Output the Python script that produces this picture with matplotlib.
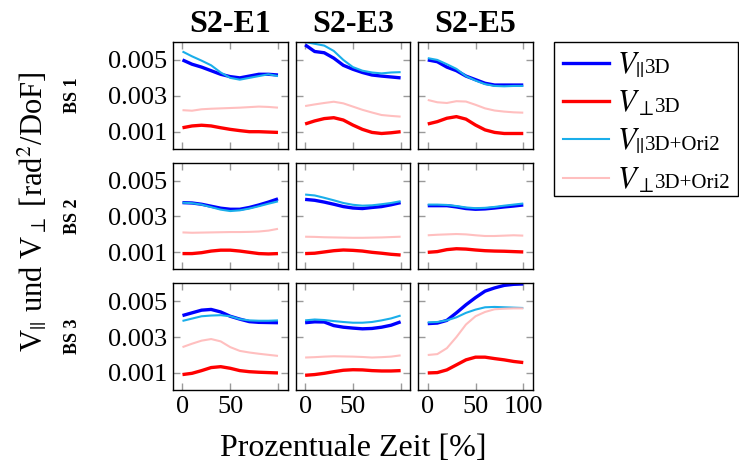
import matplotlib
matplotlib.use("Agg")
import matplotlib.pyplot as plt
from matplotlib.lines import Line2D
from matplotlib.patches import Rectangle

plt.rcParams["font.family"] = ["Liberation Serif", "DejaVu Serif"]
plt.rcParams["mathtext.fontset"] = "stix"

# Percent of movement time at which each series is sampled
time_pct = [0, 10, 20, 30, 40, 50, 60, 70, 80, 90, 100]

columns = ["S2-E1", "S2-E3", "S2-E5"]
rows = ["BS 1", "BS 2", "BS 3"]

# V_parallel, 3D only  [row][column][time]
v_par_3d = [
    [[0.00500, 0.00476, 0.00460, 0.00440, 0.00420, 0.00407, 0.00400, 0.00410, 0.00420, 0.00420, 0.00416],
     [0.00584, 0.00547, 0.00540, 0.00510, 0.00470, 0.00448, 0.00430, 0.00416, 0.00410, 0.00405, 0.00400],
     [0.00500, 0.00490, 0.00460, 0.00440, 0.00410, 0.00390, 0.00370, 0.00360, 0.00360, 0.00360, 0.00360]],
    [[0.00377, 0.00375, 0.00368, 0.00357, 0.00346, 0.00340, 0.00340, 0.00350, 0.00364, 0.00380, 0.00398],
     [0.00395, 0.00390, 0.00380, 0.00368, 0.00355, 0.00347, 0.00344, 0.00350, 0.00355, 0.00365, 0.00377],
     [0.00360, 0.00360, 0.00360, 0.00353, 0.00344, 0.00340, 0.00342, 0.00347, 0.00353, 0.00358, 0.00364]],
    [[0.00420, 0.00435, 0.00450, 0.00454, 0.00440, 0.00416, 0.00400, 0.00386, 0.00382, 0.00381, 0.00380],
     [0.00380, 0.00385, 0.00384, 0.00364, 0.00355, 0.00350, 0.00346, 0.00348, 0.00355, 0.00366, 0.00385],
     [0.00375, 0.00378, 0.00393, 0.00435, 0.00480, 0.00520, 0.00556, 0.00574, 0.00588, 0.00594, 0.00596]],
]

# V_perpendicular, 3D only
v_perp_3d = [
    [[0.00122, 0.00132, 0.00136, 0.00132, 0.00122, 0.00113, 0.00106, 0.00100, 0.00100, 0.00098, 0.00096],
     [0.00143, 0.00160, 0.00173, 0.00178, 0.00165, 0.00137, 0.00113, 0.00096, 0.00090, 0.00094, 0.00100],
     [0.00143, 0.00156, 0.00175, 0.00184, 0.00170, 0.00137, 0.00110, 0.00096, 0.00090, 0.00090, 0.00090]],
    [[0.00093, 0.00093, 0.00098, 0.00107, 0.00112, 0.00112, 0.00107, 0.00100, 0.00093, 0.00091, 0.00093],
     [0.00093, 0.00095, 0.00102, 0.00109, 0.00113, 0.00111, 0.00107, 0.00100, 0.00095, 0.00089, 0.00085],
     [0.00100, 0.00104, 0.00115, 0.00120, 0.00118, 0.00113, 0.00109, 0.00107, 0.00106, 0.00104, 0.00102]],
    [[0.00091, 0.00098, 0.00113, 0.00130, 0.00135, 0.00126, 0.00113, 0.00107, 0.00104, 0.00102, 0.00100],
     [0.00087, 0.00091, 0.00098, 0.00107, 0.00115, 0.00118, 0.00117, 0.00113, 0.00111, 0.00111, 0.00113],
     [0.00100, 0.00102, 0.00117, 0.00145, 0.00173, 0.00188, 0.00188, 0.00180, 0.00173, 0.00164, 0.00158]],
]

# V_parallel, 3D + Ori2
v_par_ori2 = [
    [[0.00547, 0.00520, 0.00496, 0.00470, 0.00430, 0.00400, 0.00390, 0.00400, 0.00410, 0.00420, 0.00410],
     [0.00600, 0.00590, 0.00580, 0.00550, 0.00500, 0.00460, 0.00440, 0.00430, 0.00425, 0.00430, 0.00432],
     [0.00510, 0.00500, 0.00476, 0.00450, 0.00410, 0.00385, 0.00365, 0.00355, 0.00353, 0.00355, 0.00355]],
    [[0.00377, 0.00374, 0.00366, 0.00352, 0.00338, 0.00330, 0.00334, 0.00344, 0.00357, 0.00371, 0.00384],
     [0.00422, 0.00417, 0.00404, 0.00390, 0.00375, 0.00365, 0.00360, 0.00362, 0.00368, 0.00375, 0.00385],
     [0.00366, 0.00366, 0.00364, 0.00358, 0.00350, 0.00346, 0.00348, 0.00353, 0.00360, 0.00366, 0.00372]],
    [[0.00390, 0.00403, 0.00416, 0.00420, 0.00422, 0.00416, 0.00400, 0.00393, 0.00391, 0.00391, 0.00393],
     [0.00393, 0.00398, 0.00395, 0.00389, 0.00384, 0.00380, 0.00380, 0.00384, 0.00393, 0.00404, 0.00420],
     [0.00382, 0.00384, 0.00393, 0.00410, 0.00435, 0.00453, 0.00466, 0.00468, 0.00466, 0.00464, 0.00462]],
]

# V_perpendicular, 3D + Ori2
v_perp_ori2 = [
    [[0.00220, 0.00217, 0.00225, 0.00228, 0.00230, 0.00232, 0.00234, 0.00237, 0.00240, 0.00238, 0.00234],
     [0.00243, 0.00252, 0.00260, 0.00267, 0.00258, 0.00240, 0.00222, 0.00207, 0.00193, 0.00188, 0.00184],
     [0.00277, 0.00264, 0.00260, 0.00270, 0.00268, 0.00250, 0.00230, 0.00218, 0.00212, 0.00208, 0.00206]],
    [[0.00211, 0.00209, 0.00210, 0.00211, 0.00212, 0.00213, 0.00213, 0.00214, 0.00216, 0.00221, 0.00231],
     [0.00187, 0.00186, 0.00184, 0.00183, 0.00182, 0.00181, 0.00181, 0.00182, 0.00183, 0.00185, 0.00187],
     [0.00195, 0.00198, 0.00200, 0.00202, 0.00200, 0.00195, 0.00191, 0.00191, 0.00193, 0.00195, 0.00193]],
    [[0.00244, 0.00263, 0.00280, 0.00289, 0.00276, 0.00244, 0.00223, 0.00214, 0.00207, 0.00201, 0.00195],
     [0.00186, 0.00188, 0.00191, 0.00193, 0.00192, 0.00191, 0.00189, 0.00186, 0.00188, 0.00191, 0.00198],
     [0.00200, 0.00205, 0.00238, 0.00300, 0.00370, 0.00416, 0.00440, 0.00455, 0.00458, 0.00460, 0.00460]],
]

# (data, colour, line width, symbol, model suffix)
series = [
    (v_par_3d, "#0000ff", 2.4, r"$V_{||}$", "3D"),
    (v_perp_3d, "#ff0000", 2.4, r"$V_{\perp}$", "3D"),
    (v_par_ori2, "#1aaeea", 1.5, r"$V_{||}$", "3D+Ori2"),
    (v_perp_ori2, "#ffbfbf", 1.5, r"$V_{\perp}$", "3D+Ori2"),
]

fig, axes = plt.subplots(3, 3, figsize=(7.39, 4.65), dpi=100)
fig.subplots_adjust(left=0.234, right=0.721, top=0.9097, bottom=0.1613,
                    wspace=0.07, hspace=0.13)

fs_tick = 19
fs_big = 23
for r in range(3):
    for c in range(3):
        ax = axes[r][c]
        for data, color, lw, _, _ in series:
            ax.plot(time_pct, data[r][c], color=color, lw=lw, solid_capstyle="butt")
        ax.set_xlim(-10, 110)
        ax.set_ylim(0.00005, 0.006)
        ax.set_xticks([0, 50, 100])
        ax.set_yticks([0.001, 0.003, 0.005])
        ax.tick_params(direction="in", top=True, right=True, length=5,
                       width=1, color="#9a9a9a", labelsize=fs_tick, pad=4)
        ax.tick_params(axis="x", labelbottom=(r == 2))
        ax.tick_params(axis="y", labelleft=(c == 0))
        for sp in ax.spines.values():
            sp.set_linewidth(1.0)
        if r == 0:
            ax.set_title(columns[c], fontsize=fs_big, fontweight="bold", pad=7)
        if c == 0:
            ax.set_yticklabels(["0.001", "0.003", "0.005"])
            ax.text(-0.878, 0.5, rows[r], transform=ax.transAxes, rotation=90,
                    ha="center", va="center", fontsize=13, fontweight="bold")
        if r == 2:
            ax.set_xticklabels(["0", "50", "100" if c == 2 else ""])

fig.text(0.478, 0.036, "Prozentuale Zeit [%]", ha="center", va="center", fontsize=fs_big)
fig.text(0.045, 0.544, r"V$_{||}$ und V$_{\perp}$ [rad$^2$/DoF]", rotation=90,
         ha="center", va="center", fontsize=22)

# Legend: symbol from mathtext, model name set small on the symbol's baseline
leg_left, leg_top, leg_bottom, leg_right = 0.7497, 0.9097, 0.5785, 0.9986
handles = [Line2D([0], [0], color=col, lw=lw) for _, col, lw, _, _ in series]
labels = [sym for *_, sym, _ in series]
leg = fig.legend(handles, labels, loc="upper left", bbox_to_anchor=(leg_left, leg_top),
                 borderaxespad=0, fontsize=22, frameon=False,
                 handlelength=1.5, borderpad=0.3, labelspacing=0.3,
                 handletextpad=0.25)
fig.add_artist(Rectangle((leg_left, leg_bottom), leg_right - leg_left, leg_top - leg_bottom,
                         transform=fig.transFigure, fill=False, edgecolor="black",
                         linewidth=1.0))

fig.canvas.draw()
renderer = fig.canvas.get_renderer()
to_fig = fig.transFigure.inverted()
for txt, (*_, suffix) in zip(leg.get_texts(), series):
    ext = txt.get_window_extent(renderer)
    bx, by = txt.get_transform().transform(txt.get_position())
    fx, fy = to_fig.transform((ext.x1 + 1, by))
    fig.text(fx, fy, suffix, fontsize=15, ha="left", va="baseline", zorder=6)

fig.savefig("out.png", dpi=100)
